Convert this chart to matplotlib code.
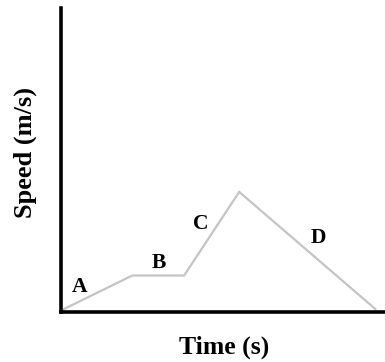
import matplotlib
matplotlib.use("Agg")
import matplotlib.pyplot as plt

# speed-time graph points (arbitrary units)
time_pts = [0, 2.2, 3.8, 5.5, 9.7]
speed_pts = [0.05, 1.2, 1.2, 3.95, 0.1]

seg_labels = ["A", "B", "C", "D"]
label_x = [0.56, 3.02, 4.32, 7.93]
label_y = [0.82, 1.61, 2.89, 2.43]

plt.rcParams['font.family'] = ['Liberation Serif', 'DejaVu Serif']

fig = plt.figure(figsize=(3.85, 3.62), dpi=100)
ax = fig.add_axes([61 / 385, 1 - 312 / 362, 1 - 61 / 385, 304 / 362])

ax.plot(time_pts, speed_pts, color='#c4c4c4', linewidth=1.6, solid_joinstyle='miter')

for lab, x, y in zip(seg_labels, label_x, label_y):
    ax.text(x, y, lab, fontsize=15.5, fontweight='bold', ha='center', va='center')

ax.set_xlim(0, 10)
ax.set_ylim(0, 10)
ax.set_xticks([])
ax.set_yticks([])
ax.spines['top'].set_visible(False)
ax.spines['right'].set_visible(False)
for s in ['left', 'bottom']:
    ax.spines[s].set_linewidth(2.6)
    ax.spines[s].set_color('black')

fig.text(224 / 385, 1 - 347 / 362, "Time (s)", fontsize=18.5, fontweight='bold',
         ha='center', va='center')
fig.text(25 / 385, 1 - 152 / 362, "Speed (m/s)", fontsize=19, fontweight='bold',
         ha='center', va='center', rotation=90)

fig.savefig("out.png", dpi=100)
